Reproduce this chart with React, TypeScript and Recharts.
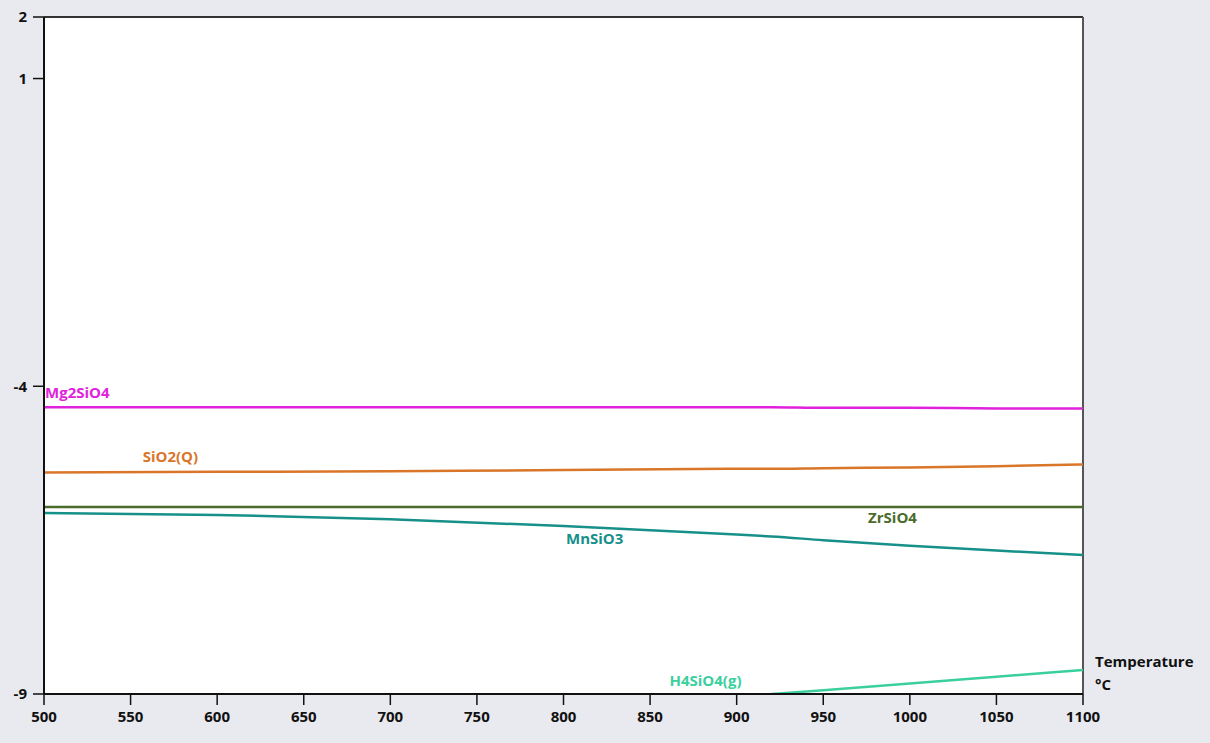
import React from 'react';
import {
  LineChart,
  Line,
  XAxis,
  YAxis,
  CartesianGrid,
  ReferenceLine,
  ReferenceDot,
} from 'recharts';

// temperature grid (°C)
const temps = [500, 600, 700, 800, 900, 920, 950, 1000, 1050, 1100];

// log activity per species, null where the curve is off-chart
const mg2sio4 = [-4.34, -4.34, -4.34, -4.34, -4.34, -4.34, -4.35, -4.35, -4.36, -4.36];
const sio2q = [-5.4, -5.39, -5.38, -5.36, -5.34, -5.34, -5.33, -5.32, -5.3, -5.27];
const zrsio4 = [-5.96, -5.96, -5.96, -5.96, -5.96, -5.96, -5.96, -5.96, -5.96, -5.96];
const mnsio3 = [-6.06, -6.09, -6.16, -6.27, -6.41, -6.44, -6.5, -6.59, -6.67, -6.74];
const h4sio4g = [null, null, null, null, null, -9.0, -8.94, -8.83, -8.72, -8.61];

const yTicks = [2, 1, -4, -9];
const xTicks = [500, 550, 600, 650, 700, 750, 800, 850, 900, 950, 1000, 1050, 1100];

const data = temps.map((t, i) => ({
  t,
  mg2sio4: mg2sio4[i],
  sio2q: sio2q[i],
  zrsio4: zrsio4[i],
  mnsio3: mnsio3[i],
  h4sio4g: h4sio4g[i],
}));

const FONT = '"Open Sans", "Noto Sans", sans-serif';

// species labels: [text, x, y, color, anchor]
const labels: [string, number, number, string, string][] = [
  ['Mg2SiO4', 500.6, -4.1, '#e022dc', 'start'],
  ['SiO2(Q)', 573, -5.15, '#d9762a', 'middle'],
  ['ZrSiO4', 990, -6.13, '#4a6b2b', 'middle'],
  ['MnSiO3', 818, -6.48, '#17908a', 'middle'],
  ['H4SiO4(g)', 882, -8.79, '#3ccf9e', 'middle'],
];

const tempLabel = (props: any) => {
  const vb = props.viewBox;
  const x = vb.x + vb.width + 12;
  return (
    <g>
      <text x={x} y={vb.y - 27} fontSize={15} fontWeight={700} fontFamily={FONT} fill="#111">
        Temperature
      </text>
      <text x={x} y={vb.y - 4} fontSize={15} fontWeight={700} fontFamily={FONT} fill="#111">
        °C
      </text>
    </g>
  );
};

const tickStyle = { fontSize: 15, fontWeight: 700, fill: '#111', fontFamily: FONT };

export default function App() {
  return (
    <div
      style={{
        position: 'fixed',
        left: 0,
        top: 0,
        width: 1210,
        height: 743,
        background: '#e9eaef',
      }}
    >
      <LineChart
        width={1210}
        height={743}
        data={data}
        margin={{ top: 17, right: 127, left: 0, bottom: 0 }}
      >
        <CartesianGrid fill="#fff" horizontal={false} vertical={false} />
        <XAxis
          dataKey="t"
          type="number"
          domain={[500, 1100]}
          ticks={xTicks}
          height={49}
          tickSize={11}
          tickMargin={6}
          axisLine={{ stroke: '#111', strokeWidth: 2 }}
          tickLine={{ stroke: '#111', strokeWidth: 1.5 }}
          tick={tickStyle}
          label={{ content: tempLabel }}
        />
        <YAxis
          type="number"
          domain={[-9, 2]}
          ticks={yTicks}
          width={44}
          tickSize={11}
          tickMargin={6}
          allowDataOverflow
          axisLine={{ stroke: '#111', strokeWidth: 2 }}
          tickLine={{ stroke: '#111', strokeWidth: 1.5 }}
          tick={tickStyle}
        />
        <ReferenceLine y={2} stroke="#333" strokeWidth={2} />
        <ReferenceLine x={1100} stroke="#555" strokeWidth={2} />
        <Line type="monotone" dataKey="mg2sio4" stroke="#e022dc" strokeWidth={2.5} dot={false} isAnimationActive={false} />
        <Line type="monotone" dataKey="sio2q" stroke="#d9762a" strokeWidth={2.5} dot={false} isAnimationActive={false} />
        <Line type="monotone" dataKey="zrsio4" stroke="#4a6b2b" strokeWidth={2.5} dot={false} isAnimationActive={false} />
        <Line type="monotone" dataKey="mnsio3" stroke="#17908a" strokeWidth={2.5} dot={false} isAnimationActive={false} />
        <Line type="monotone" dataKey="h4sio4g" stroke="#3ccf9e" strokeWidth={2.5} dot={false} isAnimationActive={false} />
        {labels.map(([text, x, y, color, anchor]) => (
          <ReferenceDot
            key={text}
            x={x}
            y={y}
            r={0}
            stroke="none"
            fill="none"
            label={{
              value: text,
              position: 'center',
              fill: color,
              fontSize: 15,
              fontWeight: 700,
              fontFamily: FONT,
              textAnchor: anchor,
            }}
          />
        ))}
      </LineChart>
    </div>
  );
}
